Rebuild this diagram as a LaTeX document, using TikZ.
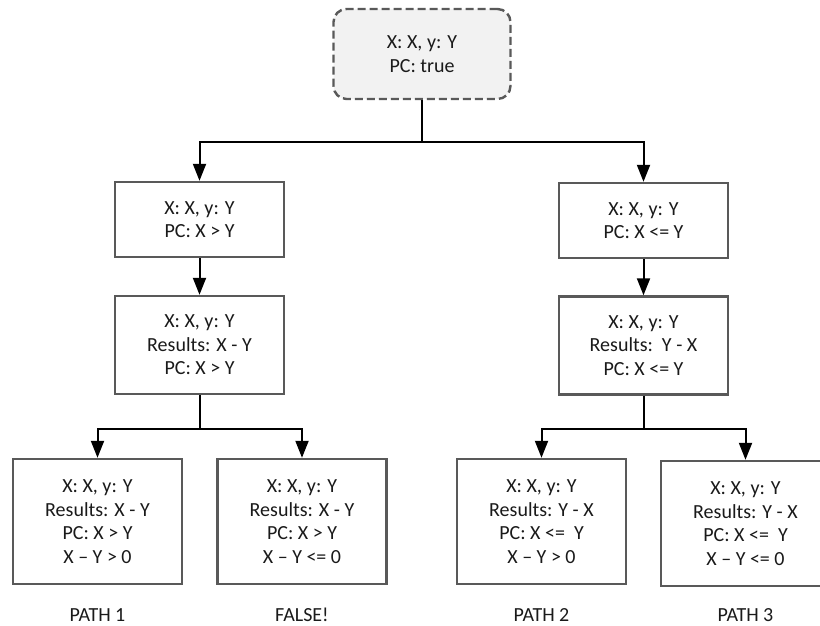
\documentclass[tikz,border=0pt]{standalone}
\usepackage{fontspec}
\setmainfont{Carlito}
\usetikzlibrary{arrows.meta}

\definecolor{boxline}{HTML}{595959}
\definecolor{startfill}{HTML}{F2F2F2}
\definecolor{txt}{HTML}{1A1A1A}

\tikzset{
  state/.style={draw=boxline, line width=2.4pt, fill=white, text=txt,
    align=center, inner sep=0pt, minimum width=169pt,
    font=\fontsize{20}{23.5}\selectfont},
  startbox/.style={state, fill=startfill, dash pattern=on 8pt off 4pt,
    rounded corners=13pt, minimum width=177pt, minimum height=90pt},
  conn/.style={draw=black, line width=2pt},
  arrowconn/.style={conn, -{Triangle[length=17pt,width=13pt]}},
  pathlabel/.style={text=txt, font=\fontsize{20}{23.5}\selectfont, inner sep=0pt}
}

\begin{document}
\begin{tikzpicture}[x=1pt,y=-1pt]
  \clip (0,0) rectangle (820,626);

  % initial symbolic state
  \node[startbox] (root) at (422,54) {X: X, y: Y\\PC: true};

  % branch X > Y
  \node[state, minimum height=75pt] (l1) at (199.5,219.5) {X: X, y: Y\\PC: X > Y};
  \node[state, minimum height=98pt] (l2) at (199.5,345) {X: X, y: Y\\Results: X - Y\\PC: X > Y};

  % branch X <= Y
  \node[state, minimum height=75pt] (r1) at (643.5,220.5) {X: X, y: Y\\PC: X <= Y};
  \node[state, minimum height=98pt] (r2) at (643.5,345.5) {X: X, y: Y\\Results:\ \ Y - X\\PC: X <= Y};

  % leaves
  \node[state, minimum height=125pt] (ll) at (97.5,521.5)
    {X: X, y: Y\\Results: X - Y\\PC: X > Y\\X – Y > 0};
  \node[state, minimum height=125pt] (lr) at (302,521.5)
    {X: X, y: Y\\Results: X - Y\\PC: X > Y\\X – Y <= 0};
  \node[state, minimum height=125pt] (rl) at (541.5,521.5)
    {X: X, y: Y\\Results: Y - X\\PC: X <=\ \ Y\\X – Y > 0};
  \node[state, minimum height=125pt] (rr) at (745.5,523.5)
    {X: X, y: Y\\Results: Y - X\\PC: X <=\ \ Y\\X – Y <= 0};

  % leaf captions
  \node[pathlabel] (p1) at (97.5,615) {PATH 1};
  \node[pathlabel] (pf) at (302,615) {FALSE!};
  \node[pathlabel] (p2) at (541.5,615) {PATH 2};
  \node[pathlabel] (p3) at (745.5,615) {PATH 3};

  % connectors
  \draw[conn] (root.south) -- ++(0,42) coordinate (split);
  \draw[arrowconn] (split) -| (l1.north);
  \draw[arrowconn] (split) -| (r1.north);

  \draw[arrowconn] (l1.south) -- (l2.north);
  \draw[arrowconn] (r1.south) -- (r2.north);

  \draw[conn] (l2.south) -- ++(0,34) coordinate (lsplit);
  \draw[arrowconn] (lsplit) -| (ll.north);
  \draw[arrowconn] (lsplit) -| (lr.north);

  \draw[conn] (r2.south) -- ++(0,33) coordinate (rsplit);
  \draw[arrowconn] (rsplit) -| (rl.north);
  \draw[arrowconn] (rsplit) -| (rr.north);
\end{tikzpicture}
\end{document}
